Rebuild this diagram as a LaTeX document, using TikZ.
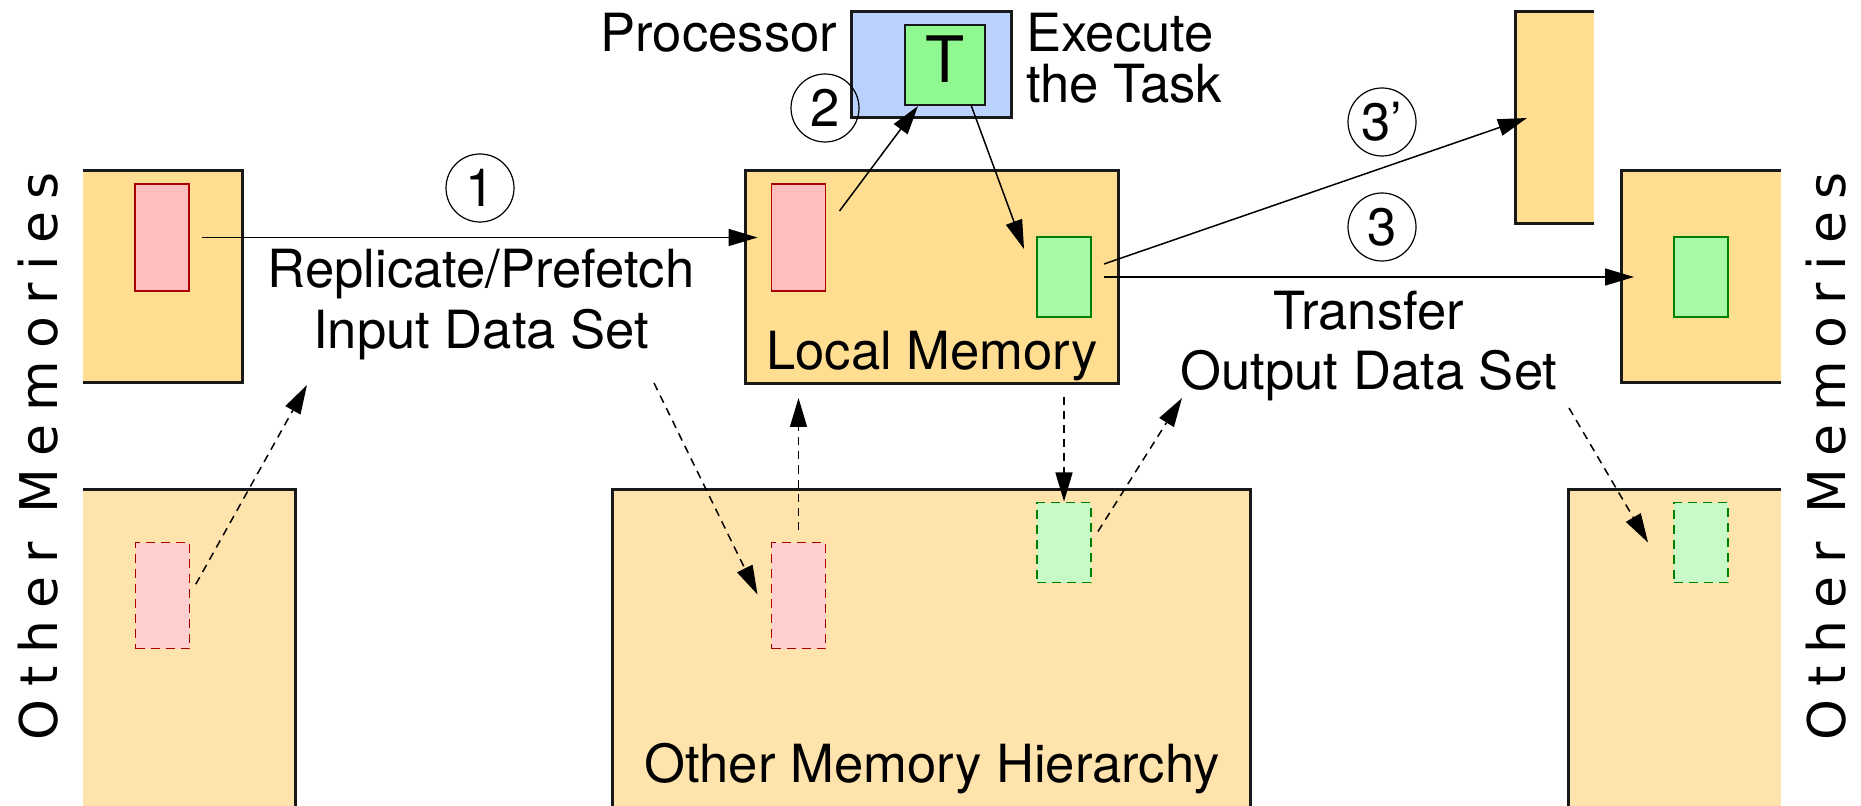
\documentclass[tikz,border=0pt]{standalone}
\usepackage{fontspec}
\setmainfont{TeX Gyre Heros}
\newfontfamily\vfont{DejaVu Sans}[LetterSpace=24]
\usetikzlibrary{arrows.meta,calc}
\definecolor{memtop}{RGB}{255,222,145}
\definecolor{membot}{RGB}{255,227,172}
\definecolor{redin}{RGB}{255,190,190}
\definecolor{reddash}{RGB}{255,206,206}
\definecolor{redline}{RGB}{170,0,0}
\definecolor{greenin}{RGB}{168,250,168}
\definecolor{greendash}{RGB}{200,250,200}
\definecolor{greenline}{RGB}{0,128,0}
\definecolor{tgreen}{RGB}{144,248,144}
\definecolor{procblue}{RGB}{187,210,255}
\definecolor{bord}{RGB}{25,25,25}
\tikzset{
  sz/.style 2 args={minimum width={#1*0.5pt}, minimum height={#2*0.5pt}, inner sep=0pt, outer sep=0pt},
  memA/.style={fill=memtop, draw=none},
  memB/.style={fill=membot, draw=none},
  border/.style={draw=bord, line width=1.5pt},
  redbox/.style={fill=redin, draw=redline, line width=0.8pt, sz={54}{107}},
  redbox2/.style={fill=reddash, draw=redline, line width=0.8pt, dash pattern=on 4.5pt off 3pt, sz={54}{106}},
  greenbox/.style={fill=greenin, draw=greenline, line width=0.8pt, sz={54}{80}},
  greenbox2/.style={fill=greendash, draw=greenline, line width=0.8pt, dash pattern=on 4.5pt off 3pt, sz={54}{80}},
  lbl/.style={font=\fontsize{26.3}{30.5}\selectfont, inner sep=0pt, outer sep=0pt},
  num/.style={circle, draw=black, line width=0.6pt, minimum size=34pt, inner sep=0pt, font=\fontsize{26.3}{30}\selectfont},
  vtext/.style={font={\vfont\fontsize{26}{30}\selectfont}, inner sep=0pt, rotate=90, anchor=base},
  conn/.style={draw=black, line width=0.75pt, -{Triangle[length=14.5pt, width=8.5pt]}},
  dconn/.style={conn, dash pattern=on 4pt off 3pt}
}
\begin{document}
\begin{tikzpicture}[x=0.5pt,y=-0.5pt]
\useasboundingbox (0,0) rectangle (1861,806);

% memory blocks
\node[memA, sz={159}{212}] (memTL) at (162.5,277) {};
\node[memB, sz={212}{317}] (memBL) at (189,647.5) {};
\node[memB, sz={637.5}{317}] (memOH) at (931.25,647.5) {};
\node[memB, sz={212.5}{317}] (memBR) at (1674.25,647.5) {};
\node[memA, sz={159.5}{212}] (memTR) at (1700.75,277) {};
\node[memA, sz={79}{212}] (mem3p) at (1554.5,118) {};
\node[memA, border, sz={372.5}{213}] (local) at (931.75,277.5) {};
\node[fill=procblue, border, sz={160}{106}] (proc) at (931,65) {};

\draw[border] (memTL.north west) -- (memTL.north east) -- (memTL.south east) -- (memTL.south west);
\draw[border] (memBL.north west) -- (memBL.north east) -- (memBL.south east);
\draw[border] (memOH.south west) -- (memOH.north west) -- (memOH.north east) -- (memOH.south east);
\draw[border] (memBR.south west) -- (memBR.north west) -- (memBR.north east);
\draw[border] (memTR.north east) -- (memTR.north west) -- (memTR.south west) -- (memTR.south east);
\draw[border] (mem3p.north east) -- (mem3p.north west) -- (mem3p.south west) -- (mem3p.south east);

% data sets
\node[redbox] (redTL) at (162,237.5) {};
\node[redbox] (redL) at (798.5,237.5) {};
\node[greenbox] (greenL) at (1064,277) {};
\node[greenbox] (greenTR) at (1701,277) {};
\node[redbox2] (redBL) at (162.5,595.5) {};
\node[redbox2] (redOH) at (798.5,595.5) {};
\node[greenbox2] (greenOH) at (1064,542.5) {};
\node[greenbox2] (greenBR) at (1701,542.5) {};

% task
\node[fill=tgreen, draw=bord, line width=0.8pt, sz={80}{80}] (T) at (945,65) {};
\node[font=\fontsize{32}{36}\selectfont, inner sep=0pt, anchor=base] (Tl) at (945,83) {T};

% labels (multi-line nodes anchored at the baseline of their last line)
\node[lbl, anchor=base east] (procl) at (837,52) {Processor};
\node[lbl, font=\fontsize{26.3}{25.5}\selectfont, anchor=base west, align=left] (exec) at (1026,103) {Execute\\the Task};
\node[lbl, anchor=base, align=center] (repl) at (481,349) {Replicate/Prefetch\\Input Data Set};
\node[lbl, font=\fontsize{26.3}{30}\selectfont, anchor=base, align=center] (trans) at (1369,390) {Transfer\\Output Data Set};
\node[lbl, anchor=base] (locl) at (932,370) {Local Memory};
\node[lbl, anchor=base] (ohl) at (932,782) {Other Memory Hierarchy};
\node[vtext] (omL) at (57,456) {Other Memories};
\node[vtext] (omR) at (1845,456) {Other Memories};

% step numbers
\node[num] (c1) at (480,188) {1};
\node[num] (c2) at (825,108) {2};
\node[num] (c3p) at (1382,122) {3’};
\node[num] (c3) at (1382,227) {3};

% free ends of dashed connectors
\coordinate (inUp) at (307,385);
\coordinate (inDown) at (654,383);
\coordinate (outUp) at (1182,398);
\coordinate (outDown) at (1569,408);

% connectors
\draw[conn, shorten <=6.5pt, shorten >=7pt] (redTL.east) -- (redL.west);
\draw[conn] ($(redL.east)+(14,-26.5)$) -- ($(T.south west)+(13,1)$);
\draw[conn] ($(T.south east)+(-14,0)$) -- ($(greenL.north west)+(-13,12)$);
\draw[conn] ($(greenL.east)+(13,-13)$) -- ($(mem3p.west)+(12,0)$);
\draw[conn, shorten <=6.5pt, shorten >=-6.5pt] (greenL.east) -- (memTR.west);

\draw[dconn, shorten <=6.5pt] (redBL.east) -- (inUp);
\draw[dconn] (inDown) -- ($(redOH.west)+(-14,-1)$);
\draw[dconn, shorten <=6.5pt, shorten >=7pt] (redOH.north) -- (redOH.north |- local.south);
\draw[dconn, shorten <=6.5pt, shorten >=0.5pt] (greenOH.north |- local.south) -- (greenOH.north);
\draw[dconn, shorten <=6.5pt] (greenOH.east) -- (outUp);
\draw[dconn] (outDown) -- ($(greenBR.west)+(-26,0)$);
\end{tikzpicture}
\end{document}
